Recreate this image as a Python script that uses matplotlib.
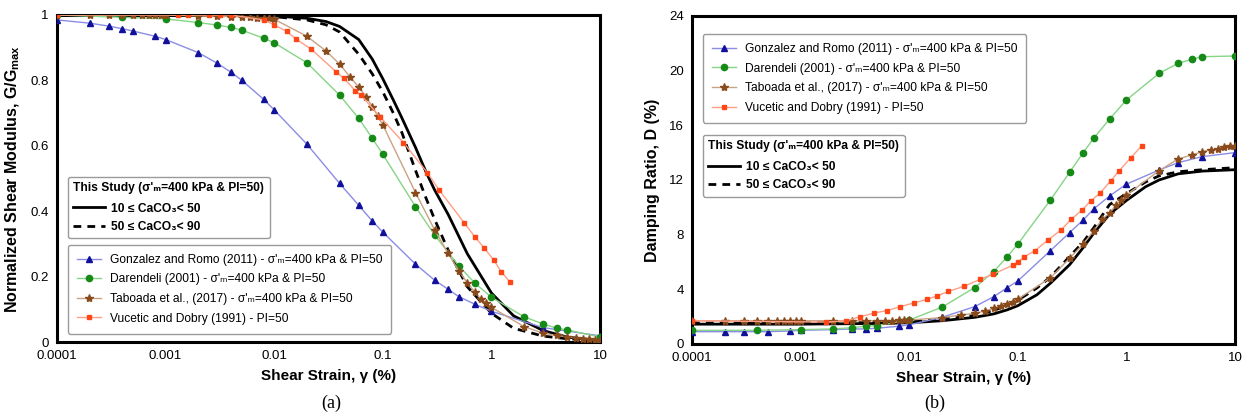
import matplotlib
matplotlib.use('Agg')
import matplotlib.pyplot as plt
from matplotlib.lines import Line2D
from matplotlib.ticker import FixedLocator, FixedFormatter

plt.rcParams['font.family'] = ['Liberation Sans', 'DejaVu Sans']
plt.rcParams['mathtext.fontset'] = 'custom'
plt.rcParams['mathtext.rm'] = 'Liberation Sans'
plt.rcParams['mathtext.bf'] = 'Liberation Sans:bold'
plt.rcParams['mathtext.it'] = 'Liberation Sans:italic'

# === (a) G/Gmax ===
gr_strain_a = [0.0001, 0.0002, 0.0003, 0.0004, 0.0005, 0.0008, 0.001, 0.002, 0.003, 0.004, 0.005, 0.008,
               0.01, 0.02, 0.04, 0.06, 0.08, 0.1, 0.2, 0.3, 0.4, 0.5, 0.7, 1, 3, 10]
gr_g = [0.985, 0.975, 0.966, 0.958, 0.951, 0.935, 0.925, 0.885, 0.852, 0.825, 0.801, 0.742,
        0.71, 0.605, 0.485, 0.418, 0.37, 0.336, 0.238, 0.189, 0.161, 0.139, 0.116, 0.094, 0.044, 0.019]

da_strain_a = [0.0001, 0.0004, 0.001, 0.002, 0.003, 0.004, 0.005, 0.008, 0.01, 0.02, 0.04, 0.06, 0.08,
               0.1, 0.2, 0.3, 0.5, 0.7, 1, 2, 3, 4, 5, 10]
da_g = [1.0, 0.993, 0.988, 0.977, 0.969, 0.962, 0.954, 0.929, 0.915, 0.854, 0.755, 0.684, 0.623,
        0.574, 0.414, 0.327, 0.233, 0.181, 0.137, 0.077, 0.055, 0.042, 0.037, 0.015]

tb_strain_a = [0.0001, 0.0002, 0.0003, 0.0004, 0.0005, 0.0006, 0.0007, 0.0008, 0.0009, 0.001,
               0.002, 0.003, 0.004, 0.005, 0.006, 0.007, 0.008, 0.009, 0.01, 0.02, 0.03, 0.04, 0.05,
               0.06, 0.07, 0.08, 0.09, 0.1, 0.2, 0.3, 0.4, 0.5, 0.6, 0.7, 0.8, 0.9, 1,
               2, 3, 4, 5, 6, 7, 8, 9, 10]
tb_g = [1.0, 1.0, 1.0, 1.0, 1.0, 1.0, 1.0, 1.0, 1.0, 1.0,
        0.997, 0.996, 0.995, 0.994, 0.993, 0.992, 0.991, 0.99, 0.987, 0.935, 0.89, 0.85, 0.81,
        0.78, 0.75, 0.72, 0.69, 0.664, 0.457, 0.343, 0.271, 0.218, 0.181, 0.154, 0.131, 0.118, 0.106,
        0.047, 0.027, 0.02, 0.016, 0.012, 0.01, 0.008, 0.007, 0.005]

vd_strain_a = [0.0001, 0.0013, 0.0016, 0.0025, 0.0032, 0.004, 0.008, 0.01, 0.013, 0.016, 0.022, 0.037,
               0.044, 0.056, 0.063, 0.094, 0.155, 0.257, 0.33, 0.56, 0.71, 0.86, 1.05, 1.23, 1.48]
vd_g = [1.0, 1.0, 1.0, 1.0, 1.0, 1.0, 0.985, 0.97, 0.95, 0.926, 0.895, 0.827,
        0.806, 0.768, 0.755, 0.689, 0.61, 0.518, 0.465, 0.365, 0.32, 0.287, 0.251, 0.215, 0.184]

ts_strain_a = [0.0001, 0.001, 0.005, 0.01, 0.02, 0.03, 0.04, 0.06, 0.08, 0.1, 0.125, 0.15, 0.2,
               0.25, 0.3, 0.4, 0.6, 1.0, 1.6, 3, 5, 10]
ts1_g = [1.0, 1.0, 0.999, 0.997, 0.99, 0.98, 0.965, 0.925, 0.865, 0.805, 0.74, 0.685, 0.595,
         0.52, 0.465, 0.39, 0.27, 0.15, 0.08, 0.035, 0.015, 0.004]
ts2_g = [1.0, 1.0, 0.998, 0.995, 0.985, 0.97, 0.948, 0.88, 0.82, 0.765, 0.70, 0.64, 0.525,
         0.44, 0.375, 0.281, 0.169, 0.088, 0.042, 0.018, 0.01, 0.005]

# === (b) Damping ===
gr_strain_b = [0.0001, 0.0002, 0.0003, 0.0005, 0.0008, 0.001, 0.002, 0.003, 0.004, 0.005, 0.008, 0.01,
               0.02, 0.04, 0.06, 0.08, 0.1, 0.2, 0.3, 0.4, 0.5, 0.7, 1, 2, 3, 5, 10]
gr_d = [0.9, 0.9, 0.9, 0.9, 0.95, 1.0, 1.05, 1.1, 1.1, 1.15, 1.3, 1.4,
        1.95, 2.73, 3.46, 4.12, 4.61, 6.83, 8.15, 9.07, 9.88, 10.83, 11.69, 12.73, 13.27, 13.71, 14.0]

da_strain_b = [0.0001, 0.0004, 0.001, 0.002, 0.003, 0.004, 0.005, 0.01, 0.02, 0.04, 0.06, 0.08,
               0.1, 0.2, 0.3, 0.4, 0.5, 0.7, 1, 2, 3, 4, 5, 10]
da_d = [1.0, 1.0, 1.05, 1.1, 1.2, 1.3, 1.35, 1.75, 2.69, 4.12, 5.29, 6.39,
        7.3, 10.54, 12.56, 14.0, 15.05, 16.46, 17.85, 19.8, 20.54, 20.83, 21.02, 21.07]

tb_strain_b = tb_strain_a
tb_d = [1.7, 1.7, 1.7, 1.7, 1.7, 1.7, 1.7, 1.7, 1.7, 1.7,
        1.7, 1.7, 1.7, 1.7, 1.7, 1.7, 1.72, 1.73, 1.75, 1.93, 2.12, 2.24, 2.41,
        2.61, 2.78, 2.93, 3.1, 3.27, 4.85, 6.27, 7.32, 8.27, 9.15, 9.56, 10.17, 10.54, 10.9,
        12.68, 13.54, 13.83, 14.07, 14.2, 14.3, 14.4, 14.45, 14.5]

vd_strain_b = [0.0001, 0.0017, 0.0026, 0.0035, 0.0047, 0.0062, 0.0083, 0.011, 0.0145, 0.018, 0.023,
               0.032, 0.045, 0.059, 0.091, 0.1, 0.115, 0.144, 0.19, 0.25, 0.31, 0.39, 0.47, 0.57,
               0.72, 0.86, 1.1, 1.38]
vd_d = [1.7, 1.6, 1.68, 1.98, 2.25, 2.44, 2.73, 3.0, 3.26, 3.51, 3.85,
        4.22, 4.73, 5.1, 5.78, 6.0, 6.39, 6.83, 7.61, 8.34, 9.12, 9.8, 10.46, 11.03,
        11.95, 12.68, 13.63, 14.49]

ts_strain_b = [0.0001, 0.001, 0.005, 0.01, 0.02, 0.04, 0.06, 0.08, 0.1, 0.15, 0.2, 0.3, 0.4, 0.5,
               0.7, 1, 1.5, 2, 3, 5, 10]
ts1_d = [1.45, 1.45, 1.5, 1.55, 1.7, 1.95, 2.2, 2.5, 2.8, 3.6, 4.45, 5.8, 7.05, 8.1,
         9.5, 10.5, 11.5, 12.0, 12.45, 12.65, 12.75]
ts2_d = [1.55, 1.55, 1.6, 1.65, 1.8, 2.1, 2.45, 2.85, 3.2, 4.1, 4.9, 6.4, 7.45, 8.5,
         10.2, 11.0, 11.85, 12.3, 12.6, 12.75, 12.9]

x_ticks = [0.0001, 0.001, 0.01, 0.1, 1, 10]
x_labels = ['0.0001', '0.001', '0.01', '0.1', '1', '10']

sig = "\u03c3'\u2098"
names = [
    f"Gonzalez and Romo (2011) - {sig}=400 kPa & PI=50",
    f"Darendeli (2001) - {sig}=400 kPa & PI=50",
    f"Taboada et al., (2017) - {sig}=400 kPa & PI=50",
    "Vucetic and Dobry (1991) - PI=50",
]
study_title = f"This Study ({sig}=400 kPa & PI=50)"
study_names = ["10 \u2264 CaCO\u2083< 50", "50 \u2264 CaCO\u2083< 90"]

# стили серий: (цвет линии, цвет маркера, маркер, размер)
styles = [
    ('#8c8ce6', '#10109a', '^', 4.0),
    ('#86d486', '#168a16', 'o', 4.5),
    ('#c9a282', '#8a4b1c', '*', 6.0),
    ('#ff9f86', '#ff4616', 's', 3.5),
]

LEG_FS = 8.65

fig = plt.figure(figsize=(12.5, 4.2), dpi=100)
ax1 = fig.add_axes([0.0456, 0.1857, 0.4344, 0.7786])
ax2 = fig.add_axes([0.5536, 0.181, 0.4344, 0.781])


def draw(ax, series, study, ylim, yticks, ylabel, ref_top, study_top):
    for (xs, ys), (lc, mc, mk, ms) in zip(series, styles):
        ax.plot(xs, ys, color=lc, lw=1.0, marker=mk, ms=ms, mfc=mc, mec=mc, zorder=3)
    ax.plot(study[0], study[1], color='black', lw=2.0, zorder=2)
    ax.plot(study[0], study[2], color='black', lw=2.0, dashes=(2.8, 2.2), zorder=2)

    ax.set_xscale('log')
    ax.set_xlim(0.0001, 10)
    ax.set_ylim(*ylim)
    ax.xaxis.set_major_locator(FixedLocator(x_ticks))
    ax.xaxis.set_major_formatter(FixedFormatter(x_labels))
    ax.xaxis.set_minor_locator(FixedLocator([]))
    ax.set_yticks(yticks)
    ax.set_yticklabels([f'{t:g}' for t in yticks])
    ax.tick_params(length=0, labelsize=9.5, pad=6)
    for s in ax.spines.values():
        s.set_linewidth(2.2)
    ax.set_xlabel('Shear Strain, \u03b3 (%)', fontsize=11, fontweight='bold', labelpad=5)
    ax.set_ylabel(ylabel, fontsize=11.5, fontweight='bold', labelpad=6)

    ref_handles = [Line2D([], [], color=lc, lw=1.0, marker=mk, ms=ms, mfc=mc, mec=mc)
                   for (lc, mc, mk, ms) in styles]
    st_handles = [Line2D([], [], color='black', lw=2.0),
                  Line2D([], [], color='black', lw=2.0, dashes=(2.8, 2.2))]

    leg_ref = ax.legend(ref_handles, names, loc='upper left', bbox_to_anchor=(0.02, ref_top),
                        fontsize=LEG_FS, frameon=True, fancybox=True, edgecolor='#9a9a9a', framealpha=1,
                        borderaxespad=0, handlelength=2.0, handletextpad=0.75, labelspacing=0.63,
                        borderpad=0.75)
    leg_ref.get_frame().set_linewidth(1.0)
    ax.add_artist(leg_ref)

    leg_st = ax.legend(st_handles, study_names, loc='upper left', bbox_to_anchor=(0.02, study_top),
                       title=study_title, alignment='left', fontsize=LEG_FS, frameon=True, fancybox=True,
                       edgecolor='#9a9a9a', framealpha=1, borderaxespad=0, handlelength=2.6,
                       handletextpad=0.5, labelspacing=0.53, borderpad=0.45,
                       title_fontproperties={'weight': 'bold', 'size': LEG_FS})
    leg_st.get_frame().set_linewidth(1.0)
    leg_st._legend_box.sep = 6
    for t in leg_st.get_texts():
        t.set_fontweight('bold')


draw(ax1,
     [(gr_strain_a, gr_g), (da_strain_a, da_g), (tb_strain_a, tb_g), (vd_strain_a, vd_g)],
     (ts_strain_a, ts1_g, ts2_g),
     (0, 1), [0, 0.2, 0.4, 0.6, 0.8, 1],
     'Normalized Shear Modulus, G/G$_{\\mathbf{max}}$',
     0.297, 0.505)

draw(ax2,
     [(gr_strain_b, gr_d), (da_strain_b, da_d), (tb_strain_b, tb_d), (vd_strain_b, vd_d)],
     (ts_strain_b, ts1_d, ts2_d),
     (0, 24), [0, 4, 8, 12, 16, 20, 24],
     'Damping Ratio, D (%)',
     0.945, 0.637)

fig.text(0.265, 0.04, '(a)', fontsize=13, family='Liberation Serif', ha='center', va='center')
fig.text(0.748, 0.04, '(b)', fontsize=13, family='Liberation Serif', ha='center', va='center')

fig.savefig('out.png', dpi=100)
